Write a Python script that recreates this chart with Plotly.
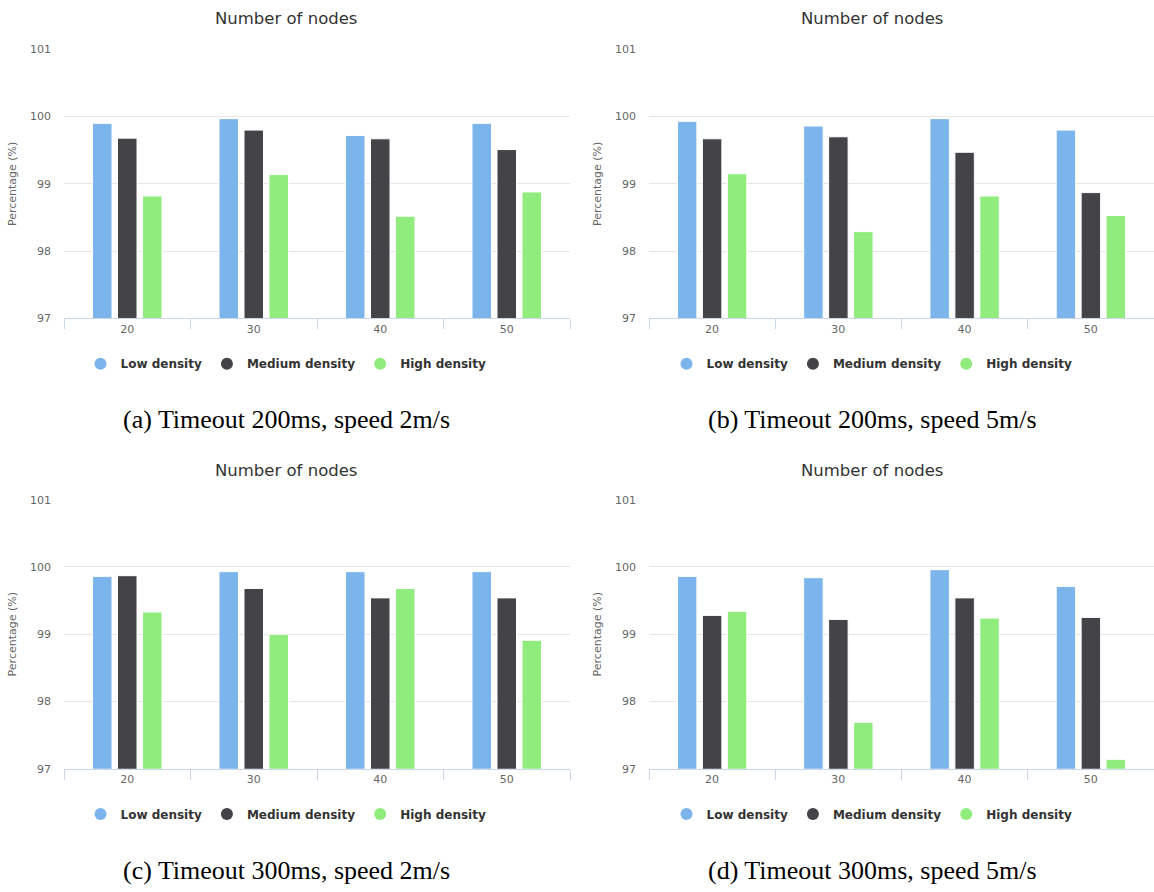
import plotly.graph_objects as go

categories = ["20", "30", "40", "50"]
series_names = ["Low density", "Medium density", "High density"]
series_colors = ["#7cb5ec", "#434348", "#90ed7d"]

a_low = [99.90, 99.97, 99.72, 99.90]
a_med = [99.68, 99.80, 99.67, 99.51]
a_high = [98.82, 99.14, 98.52, 98.88]

b_low = [99.93, 99.86, 99.97, 99.80]
b_med = [99.67, 99.70, 99.47, 98.87]
b_high = [99.15, 98.29, 98.82, 98.53]

c_low = [99.86, 99.93, 99.93, 99.93]
c_med = [99.87, 99.68, 99.54, 99.54]
c_high = [99.33, 99.00, 99.68, 98.91]

d_low = [99.86, 99.84, 99.96, 99.71]
d_med = [99.28, 99.22, 99.54, 99.25]
d_high = [99.34, 97.69, 99.24, 97.14]

chart_title = "Number of nodes"
y_title = "Percentage (%)"
captions = [
    "(a) Timeout 200ms, speed 2m/s",
    "(b) Timeout 200ms, speed 5m/s",
    "(c) Timeout 300ms, speed 2m/s",
    "(d) Timeout 300ms, speed 5m/s",
]

panels = [
    (a_low, a_med, a_high),
    (b_low, b_med, b_high),
    (c_low, c_med, c_high),
    (d_low, d_med, d_high),
]

W, H = 1154, 892
FONT = "DejaVu Sans"

# pixel geometry of each panel: (plot left, plot right, plot top, plot bottom, chart center x, title y, legend y, caption y)
geom = [
    (64, 570, 44, 317, 286, 13, 363, 420),
    (649, 1154, 44, 317, 872, 13, 363, 420),
    (64, 570, 501, 774, 286, 471, 820, 877),
    (649, 1154, 501, 774, 872, 471, 820, 877),
]

fig = go.Figure()
layout = dict(
    width=W, height=H,
    margin=dict(l=0, r=0, t=0, b=0),
    paper_bgcolor="white", plot_bgcolor="white",
    barmode="group", bargap=0.407, bargroupgap=0.22,
    showlegend=True,
    font=dict(family=FONT, color="#666666"),
)
annotations = []

for i, (vals, g) in enumerate(zip(panels, geom)):
    l, r, t, b, cx, ty, ly, cy = g
    sfx = "" if i == 0 else str(i + 1)
    xa, ya = "x" + sfx, "y" + sfx
    leg = "legend" + sfx
    for name, color, v in zip(series_names, series_colors, vals):
        fig.add_trace(go.Bar(
            x=categories, y=v, name=name, xaxis=xa, yaxis=ya,
            marker=dict(color=color, line=dict(color="white", width=1)),
            showlegend=False, legend=leg,
        ))
    for name, color in zip(series_names, series_colors):
        fig.add_trace(go.Scatter(
            x=[None], y=[None], name=name, mode="markers", xaxis=xa, yaxis=ya,
            marker=dict(color=color, size=12, symbol="circle"),
            showlegend=True, legend=leg,
        ))
    layout["xaxis" + sfx] = dict(
        domain=[l / W, r / W], anchor=ya, type="category",
        showline=True, linecolor="#ccd6eb", linewidth=1,
        ticks="outside", ticklen=10, tickcolor="#ccd6eb", tickson="boundaries",
        showgrid=False, tickfont=dict(size=11, color="#666666", family=FONT),
        fixedrange=True,
    )
    layout["yaxis" + sfx] = dict(
        domain=[1 - b / H, 1 - t / H], anchor=xa, range=[97, 101], dtick=1,
        showgrid=True, gridcolor="#e6e6e6", gridwidth=1, zeroline=False,
        showline=False, tickfont=dict(size=11, color="#666666", family=FONT),
        ticklabelstandoff=12, fixedrange=True,
        title=dict(text=y_title, font=dict(size=11, color="#666666", family=FONT), standoff=11),
    )
    layout[leg] = dict(
        orientation="h", x=cx / W, xanchor="center", y=1 - ly / H, yanchor="middle",
        font=dict(size=12, color="#333333", family=FONT, weight="bold"),
        itemwidth=30, bgcolor="rgba(0,0,0,0)",
    )
    annotations.append(dict(
        text=chart_title, x=cx / W, y=1 - ty / H, xref="paper", yref="paper",
        xanchor="center", yanchor="middle", showarrow=False,
        font=dict(size=16.5, color="#333333", family=FONT),
    ))
    annotations.append(dict(
        text=captions[i], x=cx / W, y=1 - cy / H, xref="paper", yref="paper",
        xanchor="center", yanchor="middle", showarrow=False,
        font=dict(size=26, color="#000000", family="Liberation Serif"),
    ))

layout["annotations"] = annotations
fig.update_layout(**layout)
fig.write_html(
    "out.html",
    config={"displayModeBar": False},
    post_script="document.body.style.margin='0';document.body.style.overflow='hidden';",
)
